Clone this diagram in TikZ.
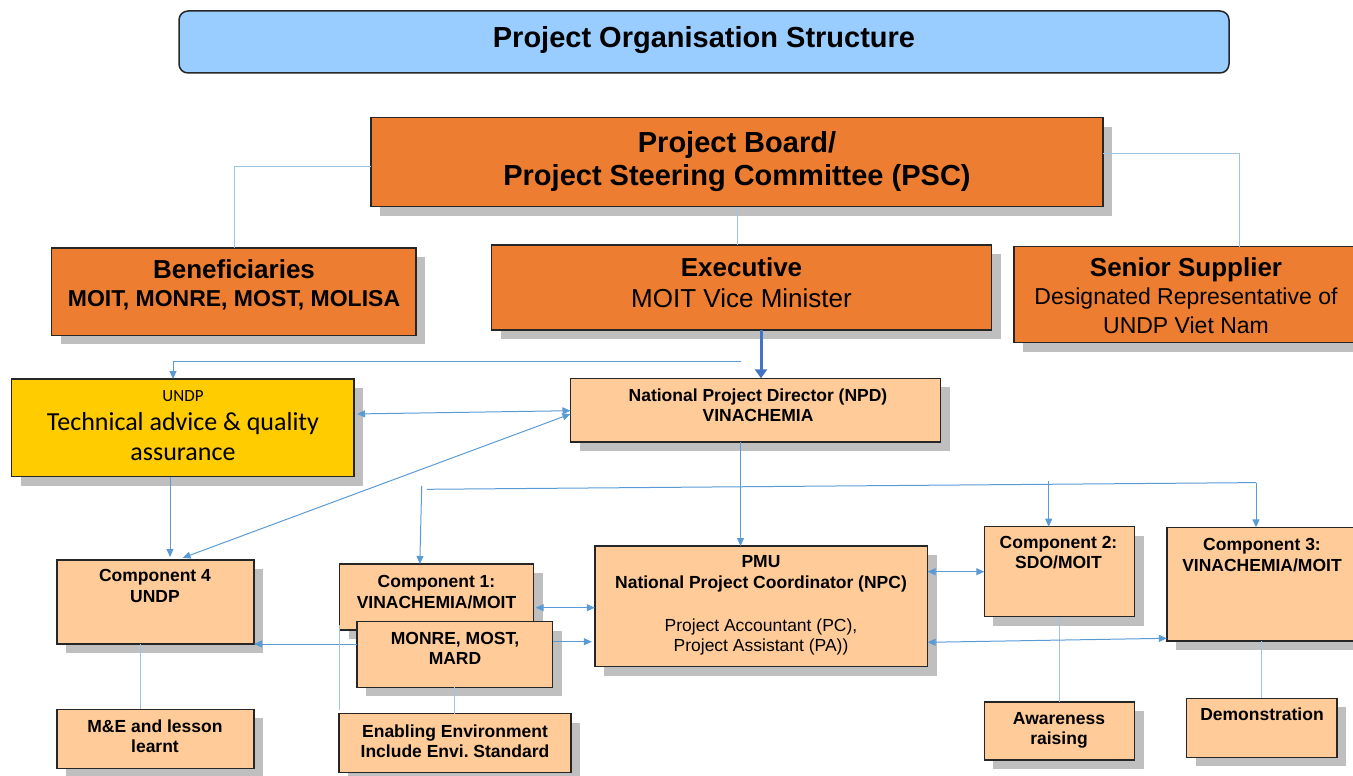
\documentclass[tikz,border=0pt]{standalone}
\usepackage{fontspec}
\setmainfont{Liberation Sans}
\newfontfamily\calfont{Carlito}
\usetikzlibrary{shadows,arrows.meta}
\definecolor{titleblue}{HTML}{99CCFF}
\definecolor{orangeC}{HTML}{ED7D31}
\definecolor{peachC}{HTML}{FFCC99}
\definecolor{goldC}{HTML}{FFCC00}
\definecolor{shadowC}{HTML}{BFBFBF}
\definecolor{lineC}{HTML}{5B9BD5}
\definecolor{connC}{HTML}{9DC3E6}
\definecolor{thickC}{HTML}{4472C4}
\definecolor{edgeC}{HTML}{262626}
\newcommand\bx[6]{\node[#1, minimum width={(#5)-(#3)}, minimum height={(#6)-(#4)}] (#2) at ({((#3)+(#5))/2},{((#4)+(#6))/2}) {};}
\newcommand\tx[5]{\node[tl,#1] (#2) at (#3,#4) {#5};}
\tikzset{
  shadowed/.style={drop shadow={shadow xshift=9pt,shadow yshift=-9pt,fill=shadowC,opacity=1}},
  box/.style={shadowed, draw=edgeC, line width=1.5pt, inner sep=0pt, outer sep=0pt},
  obox/.style={box, fill=orangeC},
  pbox/.style={box, fill=peachC},
  gbox/.style={box, fill=goldC},
  tl/.style={anchor=base, inner sep=0pt, outer sep=0pt},
  fb/.style={font=\bfseries\fontsize{#1}{#1}\selectfont},
  fr/.style={font=\fontsize{#1}{#1}\selectfont},
  fc/.style={font=\calfont\fontsize{#1}{#1}\selectfont},
  tip/.tip={Triangle[length=8pt,width=7pt]},
  arr/.style={draw=lineC, line width=1pt, -tip},
  darr/.style={draw=lineC, line width=1pt, tip-tip},
  plain/.style={draw=lineC, line width=1pt},
  conn/.style={draw=connC, line width=1pt},
  thickarr/.style={draw=thickC, line width=3pt, -{Triangle[length=9pt,width=12pt]}},
}
\begin{document}
\begin{tikzpicture}[x=1pt,y=-1pt]
\useasboundingbox (0,0) rectangle (1353,776);
% title
\node[draw=edgeC, line width=1.5pt, rounded corners=9pt, fill=titleblue, minimum width=1050, minimum height=62, inner sep=0pt] (title) at (704,42) {};
\tx{fb=29}{title-t}{704}{48}{Project Organisation Structure}
% boxes
\bx{obox}{board}{371}{117.5}{1103}{206.7}
\bx{obox}{benef}{51.7}{248}{416}{335.3}
\bx{obox}{exec}{491.7}{245}{991.7}{330}
\bx{obox}{senior}{1014}{246.7}{1362}{342.7}
\bx{gbox}{undp}{11.5}{379}{354}{476.7}
\bx{pbox}{npd}{570.5}{378.3}{940.7}{442}
\bx{pbox}{comp4}{57}{560}{254}{644}
\bx{pbox}{comp1}{339.5}{564}{533.6}{630}
\bx{pbox}{monre}{357}{621.7}{552.6}{687.3}
\bx{pbox}{pmu}{594.8}{546}{927.6}{666.7}
\bx{pbox}{comp2}{984.3}{526.7}{1134.7}{616.7}
\bx{pbox}{comp3}{1166.8}{527.3}{1362}{641}
\bx{pbox}{me}{57}{709.3}{254}{768.3}
\bx{pbox}{enab}{339}{713.7}{571}{772.7}
\bx{pbox}{aware}{984.3}{702}{1134.7}{760}
\bx{pbox}{demo}{1186.5}{698.3}{1337}{757.3}
% texts
\tx{fb=29}{board-t1}{737}{152}{Project Board/}
\tx{fb=29}{board-t2}{737}{185}{Project Steering Committee (PSC)}
\tx{fb=26}{benef-t1}{234}{278}{Beneficiaries}
\tx{fb=23}{benef-t2}{234}{306.7}{MOIT, MONRE, MOST, MOLISA}
\tx{fb=26}{exec-t1}{741.5}{276}{Executive}
\tx{fr=26}{exec-t2}{741.5}{307.3}{MOIT Vice Minister}
\tx{fb=26}{senior-t1}{1186}{276.7}{Senior Supplier}
\tx{fr=23}{senior-t2}{1186}{304.3}{Designated Representative of}
\tx{fr=23}{senior-t3}{1186}{333.3}{UNDP Viet Nam}
\tx{fc=17}{undp-t1}{183}{401}{UNDP}
\tx{fc=26}{undp-t2}{183}{430}{Technical advice \& quality}
\tx{fc=26}{undp-t3}{183}{460}{assurance}
\tx{fb=17.5}{npd-t1}{758}{401.7}{National Project Director (NPD)}
\tx{fb=17.5}{npd-t2}{758}{421.7}{VINACHEMIA}
\tx{fb=17.5}{comp4-t1}{155}{581.7}{Component 4}
\tx{fb=17.5}{comp4-t2}{155}{602.7}{UNDP}
\tx{fb=17.5}{comp1-t1}{436.5}{587.3}{Component 1:}
\tx{fb=17.5}{comp1-t2}{436.5}{608.3}{VINACHEMIA/MOIT}
\tx{fb=17.5}{monre-t1}{455}{644}{MONRE, MOST,}
\tx{fb=17.5}{monre-t2}{455}{664.3}{MARD}
\tx{fb=17.5}{pmu-t1}{761}{567.7}{PMU}
\tx{fb=17.5}{pmu-t2}{761}{588.3}{National Project Coordinator (NPC)}
\tx{fr=17.5}{pmu-t3}{761}{631}{Project Accountant (PC),}
\tx{fr=17.5}{pmu-t4}{761}{651.7}{Project Assistant (PA))}
\tx{fb=17.5}{comp2-t1}{1058.5}{548.3}{Component 2:}
\tx{fb=17.5}{comp2-t2}{1058.5}{568.3}{SDO/MOIT}
\tx{fb=17.5}{comp3-t1}{1262}{550.7}{Component 3:}
\tx{fb=17.5}{comp3-t2}{1262}{571}{VINACHEMIA/MOIT}
\tx{fb=17.5}{me-t1}{155}{732}{M\&E and lesson}
\tx{fb=17.5}{me-t2}{155}{752.7}{learnt}
\tx{fb=17.5}{enab-t1}{455}{737.3}{Enabling Environment}
\tx{fb=17.5}{enab-t2}{455}{757.7}{Include Envi.\ Standard}
\tx{fb=17.5}{aware-t1}{1059}{724}{Awareness}
\tx{fb=17.5}{aware-t2}{1059}{744}{raising}
\tx{fb=17.5}{demo-t1}{1262}{720}{Demonstration}
% top connectors
\draw[conn] (board.west |- 0,166.5) -| (benef.north -| 234.3,0);
\draw[conn] (board.east |- 0,153.3) -| (senior.north -| 1239.5,0);
\draw[conn] (board.south -| 737.3,0) -- (exec.north -| 737.3,0);
\draw[thickarr] (exec.south -| 761,0) -- (npd.north -| 761,0);
\coordinate (j1) at (740.5,361.5);
\draw[arr] (j1) -| (undp.north -| 173,0);
\draw[darr, shorten <=3pt] (undp.east |- 0,414) -- (npd.west |- 0,410.7);
\draw[darr, shorten >=6pt] (npd.west |- 0,414) -- (comp4.north -| 177,0);
\draw[arr, shorten >=3pt] (undp.south -| 170,0) -- (comp4.north -| 170,0);
\draw[arr] (npd.south -| 740.5,0) -- (pmu.north -| 740.5,0);
% branch to components
\coordinate (b1) at (427,489.3);
\coordinate (b2) at (1256,482.6);
\coordinate (b3) at (1048.7,481.3);
\coordinate (b4) at (421.7,486);
\draw[plain] (b1) -- (b2);
\draw[arr] (b2) -- (comp3.north -| b2);
\draw[arr] (b3) -- (comp2.north -| b3);
\draw[arr] (b4) -- (comp1.north -| 419.8,0);
% bottom connectors
\draw[darr, shorten <=2pt] (comp1.east |- 0,607.7) -- (pmu.west |- 0,607.7);
\draw[arr, shorten >=3pt] (monre.east |- 0,641.7) -- (pmu.west |- 0,641.7);
\draw[arr] (monre.west |- 0,644) -- (comp4.east |- 0,644);
\draw[conn] (comp1.west |- 0,625) -- (339.5,710);
\draw[conn] (monre.south) -- (monre.south |- enab.north);
\draw[conn] (comp4.south -| 140,0) -- (me.north -| 140,0);
\draw[conn] (comp2.south -| aware.north) -- (aware.north);
\draw[conn] (comp3.south -| demo.north) -- (demo.north);
\draw[darr] (pmu.east |- 0,571.7) -- (comp2.west |- 0,571.7);
\draw[darr] (pmu.east |- 0,642.3) -- (comp3.west |- 0,638.3);
\end{tikzpicture}
\end{document}
